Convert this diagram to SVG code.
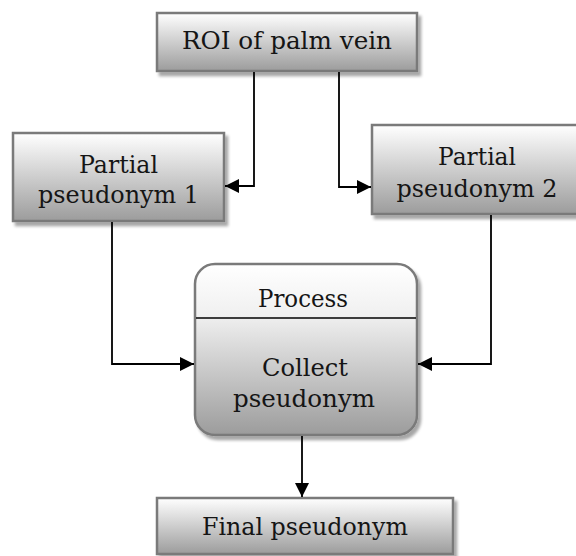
<svg xmlns="http://www.w3.org/2000/svg" width="576" height="556" viewBox="0 0 576 556">
<defs>
<linearGradient id="g" x1="0" y1="0" x2="0" y2="1">
<stop offset="0" stop-color="#ffffff"/>
<stop offset="1" stop-color="#9c9c9c"/>
</linearGradient>
<linearGradient id="gp" x1="0" y1="0" x2="0" y2="1">
<stop offset="0" stop-color="#ffffff"/>
<stop offset="0.3" stop-color="#f0f0f0"/>
<stop offset="1" stop-color="#9c9c9c"/>
</linearGradient>
<filter id="sh" x="-10%" y="-10%" width="130%" height="140%">
<feGaussianBlur in="SourceAlpha" stdDeviation="1.5"/>
<feOffset dx="3" dy="4" result="b"/>
<feComponentTransfer><feFuncA type="linear" slope="0.35"/></feComponentTransfer>
<feMerge><feMergeNode/><feMergeNode in="SourceGraphic"/></feMerge>
</filter>
<marker id="ah" viewBox="0 0 12 12" refX="12" refY="6" markerUnits="userSpaceOnUse" markerWidth="15" markerHeight="14" orient="auto">
<path d="M0,0 L12,6 L0,12 z" fill="#000"/>
</marker>
</defs>
<style>
.box{fill:url(#g);stroke:#7a7a7a;stroke-width:2.5;filter:url(#sh)}
.pbox{fill:url(#gp);stroke:#7a7a7a;stroke-width:2.5;filter:url(#sh)}
.t{font-family:"DejaVu Serif","Liberation Serif",serif;font-size:25px;fill:#151515;text-anchor:middle}
.c{fill:none;stroke:#000;stroke-width:1.8;marker-end:url(#ah)}
</style>
<g id="roi">
<rect class="box" x="157" y="13" width="260" height="58"/>
<text class="t" x="287" y="49" textLength="210" lengthAdjust="spacingAndGlyphs">ROI of palm vein</text>
</g>
<g id="partial1">
<rect class="box" x="13" y="133" width="211" height="88"/>
<text class="t" x="118.5" y="173" textLength="79" lengthAdjust="spacingAndGlyphs">Partial</text>
<text class="t" x="118.5" y="203" textLength="161" lengthAdjust="spacingAndGlyphs">pseudonym 1</text>
</g>
<g id="partial2">
<rect class="box" x="372" y="125" width="212" height="89"/>
<text class="t" x="477" y="165" textLength="78" lengthAdjust="spacingAndGlyphs">Partial</text>
<text class="t" x="477" y="197" textLength="161" lengthAdjust="spacingAndGlyphs">pseudonym 2</text>
</g>
<g id="process">
<rect class="pbox" x="195" y="264" width="222" height="171" rx="20" ry="20"/>
<line x1="196" y1="318" x2="416" y2="318" stroke="#000" stroke-width="1.5"/>
<text class="t" x="303" y="307" textLength="90" lengthAdjust="spacingAndGlyphs">Process</text>
<text class="t" x="305" y="376" textLength="86" lengthAdjust="spacingAndGlyphs">Collect</text>
<text class="t" x="304" y="407" textLength="142" lengthAdjust="spacingAndGlyphs">pseudonym</text>
</g>
<g id="final">
<rect class="box" x="157" y="498" width="296" height="56"/>
<text class="t" x="305" y="535" textLength="206" lengthAdjust="spacingAndGlyphs">Final pseudonym</text>
</g>
<g id="connectors">
<path class="c" d="M254,72 V186 H225"/>
<path class="c" d="M339,72 V187 H371"/>
<path class="c" d="M112,222 V364 H194"/>
<path class="c" d="M491,215 V364 H418"/>
<path class="c" d="M302,436 V497"/>
</g>
</svg>
